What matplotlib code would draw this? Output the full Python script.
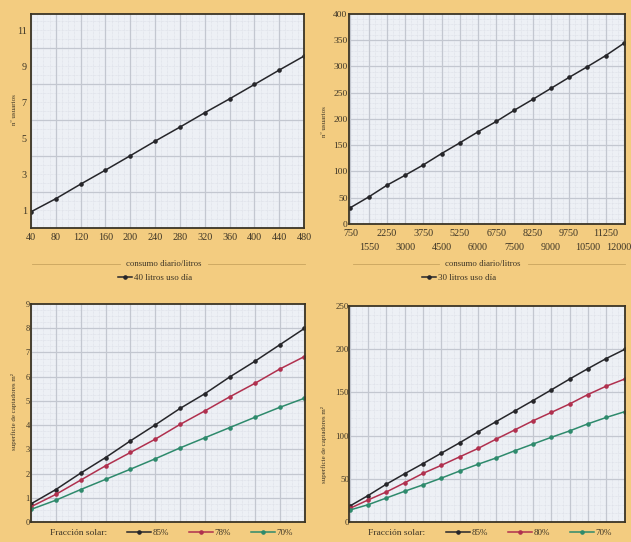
import numpy as np
import matplotlib.pyplot as plt
from matplotlib.lines import Line2D
from matplotlib.transforms import offset_copy

# DATOS
consumo40 = [40, 80, 120, 160, 200, 240, 280, 320, 360, 400, 440, 480]
usuarios40 = [0.9, 1.63, 2.44, 3.22, 4.02, 4.83, 5.61, 6.41, 7.18, 7.98, 8.78, 9.56]

consumo30 = [750, 1500, 2250, 3000, 3750, 4500, 5250, 6000, 6750, 7500, 8250, 9000,
             9750, 10500, 11250, 12000]
etiquetas30 = ["750", "1550", "2250", "3000", "3750", "4500", "5250", "6000", "6750",
               "7500", "8250", "9000", "9750", "10500", "11250", "12000"]
usuarios30 = [31.2, 51.5, 73.8, 92.9, 112.6, 134.2, 154.6, 175.6, 195.3, 216.9, 237.3,
              258.3, 279.3, 299.6, 320.6, 344.1]

sup40_85 = [0.75, 1.34, 2.02, 2.66, 3.35, 4.01, 4.69, 5.3, 5.99, 6.63, 7.31, 7.99]
sup40_78 = [0.63, 1.14, 1.73, 2.32, 2.87, 3.42, 4.03, 4.59, 5.17, 5.72, 6.31, 6.83]
sup40_70 = [0.52, 0.9, 1.34, 1.76, 2.18, 2.61, 3.06, 3.48, 3.9, 4.32, 4.73, 5.11]

sup30_85 = [18.4, 30.6, 43.8, 55.9, 67.6, 79.7, 91.7, 104.2, 116.3, 128.4, 140.5, 152.9,
            165.4, 177.5, 189.2, 199.7]
sup30_80 = [15.7, 25.5, 34.8, 45.4, 56.3, 65.6, 75.4, 85.1, 96, 106.5, 117.1, 126.8,
            136.6, 147.5, 157.2, 165.4]
sup30_70 = [13.8, 20, 27.8, 35.6, 43, 50.8, 59, 66.8, 74.2, 82.4, 90.2, 98, 105.4,
            113.6, 121, 127.6]

fracciones40 = ["85%", "78%", "70%"]
fracciones30 = ["85%", "80%", "70%"]

# ESTILO
W, H = 631, 542
fondo = "#F3CC80"
papel = "#EDF0F5"
rejilla = "#C3C7D0"
rejilla_fina = "#DADDE5"
texto = "#3D3526"
negro = "#26262A"
rojo = "#B0304E"
verde = "#2E8A6C"
plt.rcParams['font.family'] = ['Liberation Serif', 'DejaVu Serif']


def caja(x0, y0, x1, y1):
    return [x0 / W, 1 - y1 / H, (x1 - x0) / W, (y1 - y0) / H]


def papel_milimetrado(ax, xmaj, ymaj, xmin, ymin):
    for x in xmin:
        ax.axvline(x, color=rejilla_fina, lw=0.5, ls=(0, (1, 1)), zorder=1)
    for y in ymin:
        ax.axhline(y, color=rejilla_fina, lw=0.5, ls=(0, (1, 1)), zorder=1)
    for x in xmaj:
        ax.axvline(x, color=rejilla, lw=0.9, zorder=1)
    for y in ymaj:
        ax.axhline(y, color=rejilla, lw=0.9, zorder=1)


def preparar(ax):
    ax.set_facecolor(papel)
    for s in ax.spines.values():
        s.set_color("#3A3425")
        s.set_linewidth(1.3)
        s.set_zorder(5)
    ax.tick_params(length=0, labelsize=7.3, labelcolor=texto)


def linea(ax, x, y, c):
    ax.plot(x, y, color=c, lw=1.1, marker="o", ms=2.3, zorder=3)


fig = plt.figure(figsize=(W / 100, H / 100), dpi=100)
fig.patch.set_facecolor(fondo)

# --- arriba izquierda
ax1 = fig.add_axes(caja(31, 14, 304, 228))
preparar(ax1)
papel_milimetrado(ax1, consumo40, np.arange(2, 12, 2), np.arange(40, 480, 10), np.arange(0, 12, 0.5))
linea(ax1, consumo40, usuarios40, negro)
ax1.set_xlim(40, 480)
ax1.set_ylim(0, 11.9)
ax1.set_xticks(consumo40)
ax1.set_yticks(np.arange(1, 12, 2))
ax1.tick_params(axis="x", pad=3.5)
ax1.tick_params(axis="y", pad=3)

# --- arriba derecha
ax2 = fig.add_axes(caja(349, 14, 625, 224))
preparar(ax2)
papel_milimetrado(ax2, consumo30, np.arange(50, 400, 50), np.arange(750, 12050, 250), np.arange(0, 400, 10))
linea(ax2, consumo30, usuarios30, negro)
ax2.set_xlim(690, 12050)
ax2.set_ylim(0, 400)
ax2.set_xticks(consumo30[::2], etiquetas30[::2])
ax2.set_xticks(consumo30[1::2], etiquetas30[1::2], minor=True)
ax2.tick_params(which="minor", length=0, labelsize=7.3, labelcolor=texto, pad=14)
ax2.tick_params(axis="x", which="major", pad=3.5)
ax2.set_yticks(np.arange(0, 401, 50))
ax2.tick_params(axis="y", pad=1, labelsize=6.8)
ultima = ax2.get_xticklabels(minor=True)[-1]
ultima.set_transform(offset_copy(ultima.get_transform(), fig=fig, x=-5, units="dots"))

# --- abajo izquierda
ax3 = fig.add_axes(caja(31, 304, 305, 522))
preparar(ax3)
papel_milimetrado(ax3, consumo40, np.arange(1, 9, 1), np.arange(40, 480, 10), np.arange(0, 9, 0.25))
for serie, c in zip([sup40_85, sup40_78, sup40_70], [negro, rojo, verde]):
    linea(ax3, consumo40, serie, c)
ax3.set_xlim(40, 481)
ax3.set_ylim(0, 9)
ax3.set_xticks([])
ax3.set_yticks(np.arange(0, 10, 1))
ax3.tick_params(axis="y", pad=1, labelsize=6)

# --- abajo derecha
ax4 = fig.add_axes(caja(349, 306, 625, 522))
preparar(ax4)
papel_milimetrado(ax4, consumo30, np.arange(50, 250, 50), np.arange(750, 12050, 250), np.arange(0, 250, 10))
for serie, c in zip([sup30_85, sup30_80, sup30_70], [negro, rojo, verde]):
    linea(ax4, consumo30, serie, c)
ax4.set_xlim(720, 12020)
ax4.set_ylim(0, 250)
ax4.set_xticks([])
ax4.set_yticks(np.arange(0, 251, 50))
ax4.tick_params(axis="y", pad=0, labelsize=6.3)

# --- rotulos de ejes
etq = dict(color=texto, fontsize=5, rotation=90, ha="center", va="center")
fig.text(15 / W, 1 - 110 / H, "nº usuarios", **etq)
fig.text(325 / W, 1 - 122 / H, "nº usuarios", **etq)
fig.text(14 / W, 1 - 412 / H, "superficie de captadores m²", **etq)
fig.text(324 / W, 1 - 445 / H, "superficie de captadores m²", **etq)

for x0, x1, xt0, xt1, cx in [(32, 305, 120, 208, 164), (353, 625, 439, 528, 483)]:
    fig.text(cx / W, 1 - 264 / H, "consumo diario/litros", color=texto, fontsize=6.3,
             ha="center", va="center")
    fig.add_artist(Line2D([x0 / W, xt0 / W], [1 - 264 / H] * 2, color="#C9A45E", lw=0.6))
    fig.add_artist(Line2D([xt1 / W, x1 / W], [1 - 264 / H] * 2, color="#C9A45E", lw=0.6))

# --- leyendas
def mango(c):
    return Line2D([], [], color=c, lw=1.1, marker="o", ms=2.3)

ley = dict(frameon=False, fontsize=6.5, handletextpad=0.15, labelcolor=texto,
           borderaxespad=0)
fig.legend([mango(negro)], ["40 litros uso día"], loc="center", handlelength=1.6,
           bbox_to_anchor=(155 / W, 1 - 278 / H), **ley)
fig.legend([mango(negro)], ["30 litros uso día"], loc="center", handlelength=1.6,
           bbox_to_anchor=(459 / W, 1 - 278 / H), **ley)

for ax, etiquetas, x_fr, cx in [(ax3, fracciones40, 79, 210), (ax4, fracciones30, 397, 529)]:
    fig.text(x_fr / W, 1 - 533 / H, "Fracción solar:", color=texto, fontsize=6.8,
             ha="center", va="center")
    fig.legend([mango(negro), mango(rojo), mango(verde)], etiquetas, loc="center", ncol=3,
               bbox_to_anchor=(cx / W, 1 - 533 / H), columnspacing=2.3, handlelength=2.6,
               **ley)

fig.savefig("out.png", dpi=100, facecolor=fondo)
